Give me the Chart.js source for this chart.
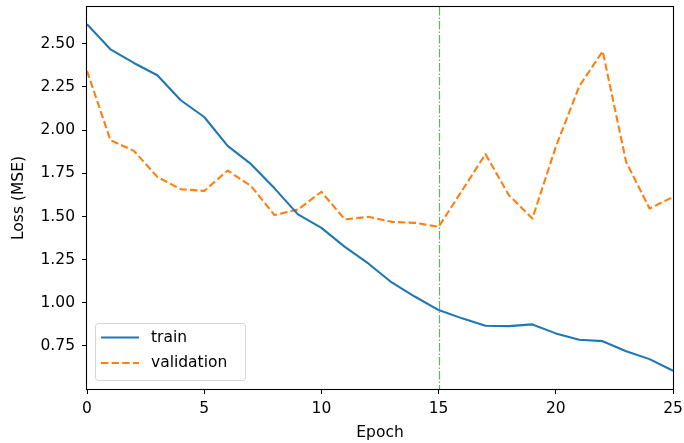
<!DOCTYPE html>
<html>
<head>
<meta charset="utf-8">
<script src="https://cdn.jsdelivr.net/npm/chart.js@4/dist/chart.umd.min.js"></script>
<style>
  html, body { margin: 0; padding: 0; background: #ffffff; }
  #wrap { width: 684px; height: 443px; }
</style>
</head>
<body>
<div id="wrap"><canvas id="lossChart" width="684" height="443"></canvas></div>
<script>
// Training history: mean squared error per epoch
const epochs = [0, 1, 2, 3, 4, 5, 6, 7, 8, 9, 10, 11, 12, 13, 14, 15, 16, 17, 18, 19, 20, 21, 22, 23, 24, 25];
const trainLoss = [2.613, 2.468, 2.389, 2.318, 2.173, 2.076, 1.909, 1.803, 1.663, 1.512, 1.434, 1.324, 1.228, 1.118, 1.035, 0.958,
                   0.910, 0.867, 0.865, 0.875, 0.823, 0.786, 0.778, 0.720, 0.674, 0.607];
const valLoss = [2.343, 1.942, 1.880, 1.729, 1.658, 1.648, 1.766, 1.676, 1.508, 1.540, 1.643, 1.483, 1.498, 1.469, 1.463, 1.440,
                 1.650, 1.861, 1.623, 1.488, 1.903, 2.254, 2.457, 1.816, 1.546, 1.613];
const seriesNames = ['train', 'validation'];
const xTicks = [0, 5, 10, 15, 20, 25];
const yTicks = [0.75, 1.00, 1.25, 1.50, 1.75, 2.00, 2.25, 2.50];
const bestEpoch = 15;

const FONT = 'DejaVu Sans';
const BLUE = '#1f77b4';
const ORANGE = '#ff7f0e';
const GREEN = '#5cb65c';
const VAL_DASH = [7.4, 3.2];

const toPoints = (ys) => epochs.map((e, i) => ({ x: e, y: ys[i] }));

// Marker line at the best epoch, plus the full axes frame
const markerAndFrame = {
  id: 'markerAndFrame',
  beforeDatasetsDraw(chart) {
    const { ctx, chartArea: a, scales: { x } } = chart;
    const px = Math.round(x.getPixelForValue(bestEpoch)) + 0.5;
    ctx.save();
    ctx.strokeStyle = GREEN;
    ctx.lineWidth = 1.2;
    ctx.setLineDash([8.5, 2.1, 1.3, 2.1]);
    ctx.beginPath();
    ctx.moveTo(px, a.top);
    ctx.lineTo(px, a.bottom);
    ctx.stroke();
    ctx.restore();
  },
  afterDraw(chart) {
    const { ctx, chartArea: a } = chart;
    ctx.save();
    ctx.strokeStyle = '#000000';
    ctx.lineWidth = 1.1;
    const l = Math.round(a.left) - 0.5, t = Math.round(a.top) - 0.5;
    const r = Math.round(a.right) + 0.5, b = Math.round(a.bottom) + 0.5;
    ctx.strokeRect(l, t, r - l, b - t);
    ctx.restore();
  }
};

// Legend box in the lower-left corner of the plot area
const cornerLegend = {
  id: 'cornerLegend',
  afterDraw(chart) {
    const { ctx, chartArea: a } = chart;
    const bx = a.left + 8, by = a.bottom - 66, bw = 150, bh = 57, r = 3;
    ctx.save();
    ctx.fillStyle = 'rgba(255,255,255,0.8)';
    ctx.strokeStyle = 'rgba(204,204,204,0.8)';
    ctx.lineWidth = 1;
    ctx.beginPath();
    ctx.roundRect(bx + 0.5, by + 0.5, bw, bh, r);
    ctx.fill();
    ctx.stroke();

    const rows = [
      { name: seriesNames[0], color: BLUE, dash: [] },
      { name: seriesNames[1], color: ORANGE, dash: VAL_DASH }
    ];
    ctx.font = '15.5px "' + FONT + '"';
    ctx.textBaseline = 'middle';
    ctx.textAlign = 'left';
    rows.forEach((row, i) => {
      const cy = by + 14.5 + i * 25.5;
      ctx.strokeStyle = row.color;
      ctx.lineWidth = 2;
      ctx.setLineDash(row.dash);
      ctx.beginPath();
      ctx.moveTo(bx + 6, cy);
      ctx.lineTo(bx + 44, cy);
      ctx.stroke();
      ctx.fillStyle = '#000000';
      ctx.fillText(row.name, bx + 56, cy);
    });
    ctx.restore();
  }
};

new Chart(document.getElementById('lossChart'), {
  type: 'line',
  data: {
    datasets: [
      {
        label: seriesNames[0],
        data: toPoints(trainLoss),
        borderColor: BLUE,
        borderWidth: 2.1,
        pointRadius: 0,
        tension: 0,
        borderJoinStyle: 'round',
        fill: false
      },
      {
        label: seriesNames[1],
        data: toPoints(valLoss),
        borderColor: ORANGE,
        borderWidth: 2.1,
        borderDash: VAL_DASH,
        pointRadius: 0,
        tension: 0,
        borderJoinStyle: 'round',
        fill: false
      }
    ]
  },
  options: {
    responsive: false,
    animation: false,
    devicePixelRatio: 1,
    layout: { padding: { left: 0, right: 11, top: 7, bottom: 0 } },
    plugins: {
      legend: { display: false },
      tooltip: { enabled: false }
    },
    scales: {
      x: {
        type: 'linear',
        min: 0,
        max: 25,
        afterBuildTicks: (s) => { s.ticks = xTicks.map(v => ({ value: v })); },
        afterFit: (s) => {
          s.height = 54;
          s.paddingLeft = 0; s.paddingRight = 0; s.paddingTop = 0; s.paddingBottom = 0;
        },
        border: { display: false },
        grid: { drawOnChartArea: false, drawTicks: true, tickLength: 5, tickColor: '#000000', tickWidth: 1 },
        ticks: {
          color: '#000000',
          font: { family: FONT, size: 15.5 },
          padding: 6,
          maxRotation: 0,
          autoSkip: false,
          callback: (v) => String(v)
        },
        title: {
          display: true,
          text: 'Epoch',
          color: '#000000',
          font: { family: FONT, size: 15.5 },
          padding: { top: 0, bottom: 1 }
        }
      },
      y: {
        type: 'linear',
        min: 0.501,
        max: 2.713,
        afterBuildTicks: (s) => { s.ticks = yTicks.map(v => ({ value: v })); },
        afterFit: (s) => {
          s.width = 87;
          s.paddingLeft = 0; s.paddingRight = 0; s.paddingTop = 0; s.paddingBottom = 0;
        },
        border: { display: false },
        grid: { drawOnChartArea: false, drawTicks: true, tickLength: 5, tickColor: '#000000', tickWidth: 1 },
        ticks: {
          color: '#000000',
          font: { family: FONT, size: 15.5 },
          padding: 7,
          autoSkip: false,
          callback: (v) => Number(v).toFixed(2)
        },
        title: {
          display: true,
          text: 'Loss (MSE)',
          color: '#000000',
          font: { family: FONT, size: 15.5 },
          padding: { top: 10, bottom: 0 }
        }
      }
    }
  },
  plugins: [markerAndFrame, cornerLegend]
});
</script>
</body>
</html>
